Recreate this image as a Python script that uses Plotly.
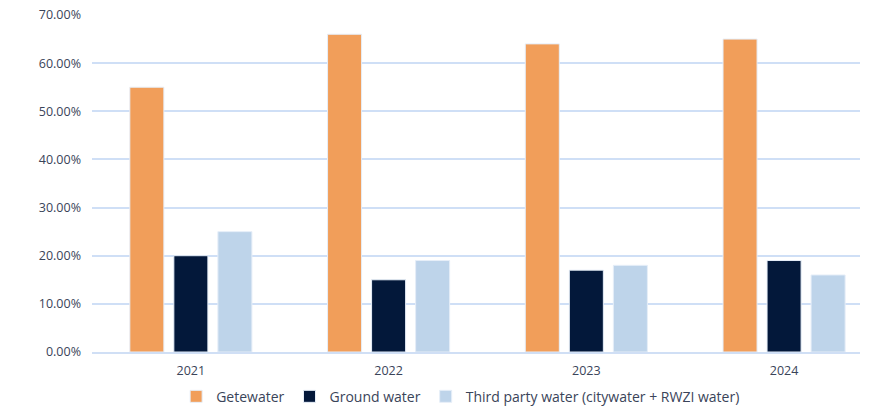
import plotly.graph_objects as go

years = ["2021", "2022", "2023", "2024"]
getewater = [55, 66, 64, 65]
ground_water = [20, 15, 17, 19]
third_party = [25, 19, 18, 16]

series = [
    ("Getewater", getewater, "#F19E5A"),
    ("Ground water", ground_water, "#03183A"),
    ("Third party water (citywater + RWZI water)", third_party, "#BED4EA"),
]

fig = go.Figure()
for name, vals, col in series:
    fig.add_trace(go.Bar(
        x=years, y=vals, name=name,
        marker=dict(color=col, line=dict(color="#E6EEF8", width=1)),
    ))

font_fam = "'Open Sans', sans-serif"
txt = "#3A4459"
fig.update_layout(
    width=872, height=409,
    margin=dict(l=92, r=12, t=15, b=57, autoexpand=False),
    paper_bgcolor="white", plot_bgcolor="white",
    barmode="group", bargap=0.332, bargroupgap=0.227,
    font=dict(family=font_fam, size=12, color=txt),
    showlegend=True,
    legend=dict(orientation="h", x=0.48, xanchor="center",
                yref="container", y=0.03, yanchor="middle",
                font=dict(size=14, color=txt), itemwidth=30,
                traceorder="normal"),
    xaxis=dict(range=[-0.5, 3.384], showgrid=False, showline=True,
               linecolor="#D0DFF5", linewidth=2,
               ticks="", tickfont=dict(size=12.5), ticklabelstandoff=6,
               automargin=False),
    yaxis=dict(range=[0, 70], dtick=10, tickformat=".2f", ticksuffix="%",
               showgrid=True, gridcolor="#CFDFF6", gridwidth=1.5,
               zeroline=False, ticks="", ticklabelstandoff=10,
               tickfont=dict(size=12.5), automargin=False),
)

# remove the default 8px page margin so the figure sits at the window origin
fig.write_html("out.html", config={"displayModeBar": False},
               post_script="document.body.style.margin='0px';document.body.style.padding='0px';")
